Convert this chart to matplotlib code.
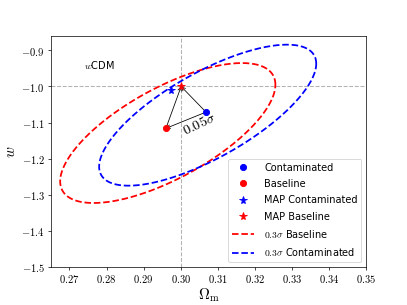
import numpy as np
import matplotlib
matplotlib.use("Agg")
import matplotlib.pyplot as plt
from matplotlib.ticker import FuncFormatter

plt.rcParams["mathtext.fontset"] = "cm"

# --- points (Omega_m, w)
contam = (0.3068, -1.071)
base = (0.2960, -1.116)
map_contam = (0.2973, -1.009)
map_base = (0.3001, -1.000)

# --- 0.3 sigma contours: centre, half-extent in x / y, correlation
base_ell = dict(cx=0.2965, cy=-1.129, hx=0.0290, hy=0.194, rho=0.69)
contam_ell = dict(cx=0.30725, cy=-1.0795, hx=0.02925, hy=0.1955, rho=0.73)

xticks = [0.27, 0.28, 0.29, 0.30, 0.31, 0.32, 0.33, 0.34, 0.35]
yticks = [-1.5, -1.4, -1.3, -1.2, -1.1, -1.0, -0.9]


def ellipse(e, n=300):
    t = np.linspace(0, 2 * np.pi, n)
    x = e["cx"] + e["hx"] * np.cos(t)
    y = e["cy"] + e["hy"] * (e["rho"] * np.cos(t) + np.sqrt(1 - e["rho"] ** 2) * np.sin(t))
    return x, y


fig, ax = plt.subplots(figsize=(6.4, 4.8), dpi=63.6)
fig.subplots_adjust(left=0.125, right=0.9, top=0.88, bottom=0.125)

ax.axvline(0.3, color="0.7", ls="--", lw=1.2, zorder=0)
ax.axhline(-1.0, color="0.7", ls="--", lw=1.2, zorder=0)

ax.plot(*contam, "o", color="blue", ms=7, label="Contaminated", zorder=4)
ax.plot(*base, "o", color="red", ms=7, label="Baseline", zorder=4)
ax.plot(*map_contam, "*", color="blue", ms=9, label="MAP Contaminated", zorder=4)
ax.plot(*map_base, "*", color="red", ms=9, label="MAP Baseline", zorder=4)

xb, yb = ellipse(base_ell)
ax.plot(xb, yb, "--", color="red", lw=2, label=r"$0.3\sigma$ Baseline")
xc, yc = ellipse(contam_ell)
ax.plot(xc, yc, "--", color="blue", lw=2, label=r"$0.3\sigma$ Contaminated")

arrow = dict(arrowstyle="->", color="black", lw=0.9, shrinkA=0, shrinkB=0)
ax.annotate("", xy=map_base, xytext=base, arrowprops=arrow)
ax.annotate("", xy=map_base, xytext=contam, arrowprops=arrow)
ax.annotate("", xy=base, xytext=contam, arrowprops=arrow)
ax.text(0.3050, -1.104, r"$0.05\sigma$", fontsize=16, rotation=25,
        ha="center", va="center")

ax.text(0.2738, -0.94, r"$w$CDM", fontsize=11, ha="left", va="center")

ax.set_xlim(0.265, 0.35)
ax.set_ylim(-1.5, -0.861)
ax.set_xticks(xticks)
ax.set_yticks(yticks)
ax.xaxis.set_major_formatter(FuncFormatter(lambda v, p: r"$%.2f$" % v))
ax.yaxis.set_major_formatter(FuncFormatter(lambda v, p: r"$%.1f$" % v))
ax.tick_params(labelsize=12)
ax.set_xlabel(r"$\Omega_{\rm m}$", fontsize=17, labelpad=1)
ax.set_ylabel(r"$w$", fontsize=17)

ax.legend(loc="lower right", fontsize=11, framealpha=0.8, labelspacing=0.65,
          handlelength=2.3, handletextpad=1.0)

fig.savefig("out.png", dpi=63.6)
